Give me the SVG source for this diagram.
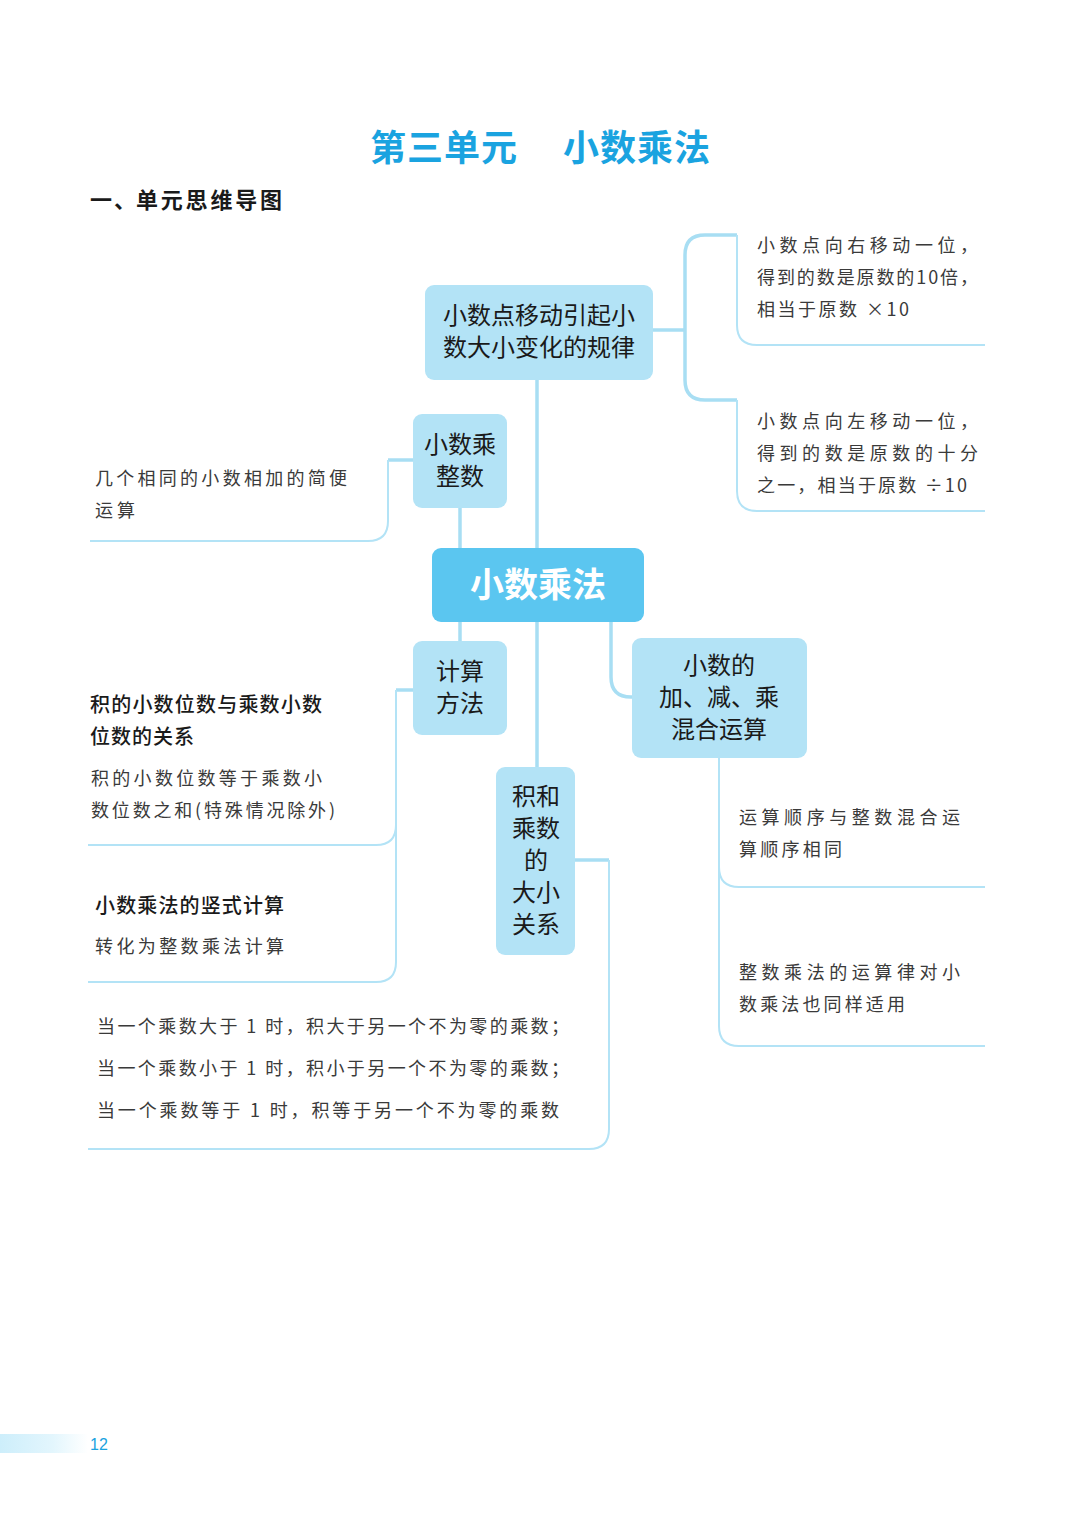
<svg xmlns="http://www.w3.org/2000/svg" width="1080" height="1515" viewBox="0 0 1080 1515">
<defs>
<linearGradient id="pg" x1="0" y1="0" x2="1" y2="0">
<stop offset="0" stop-color="#cdeefb"/>
<stop offset="0.6" stop-color="#e3f6fd"/>
<stop offset="1" stop-color="#ffffff"/>
</linearGradient>
<style>
.box{fill:#b3e3f6}
.center{fill:#5bc6f0}
.bt{font-family:"Noto Sans CJK SC","Noto Sans",sans-serif;font-size:24px;fill:#1a1a1a;text-anchor:middle}
.ct{font-family:"Noto Sans CJK SC","Noto Sans",sans-serif;font-size:34px;font-weight:bold;fill:#ffffff;text-anchor:middle}
.lf{font-family:"Noto Sans CJK SC","Noto Sans",sans-serif;font-size:18px;font-weight:normal;fill:#3a3a3a}
.lb{font-family:"Noto Sans CJK SC","Noto Sans",sans-serif;font-size:20px;font-weight:500;fill:#1a1a1a}
.con{fill:none;stroke:#a8def3;stroke-width:3.5}
.ul{fill:none;stroke:#b3e3f6;stroke-width:2}
</style>
</defs>
<rect width="1080" height="1515" fill="#ffffff"/>
<text x="540" y="161" text-anchor="middle" font-family="Noto Sans CJK SC, sans-serif" font-size="36" font-weight="bold" fill="#1aa3e0"><tspan x="370" text-anchor="start" textLength="147">第三单元</tspan><tspan x="563" text-anchor="start" textLength="147">小数乘法</tspan></text>
<text y="208" font-family="Noto Sans CJK SC, sans-serif" font-size="22" font-weight="bold" fill="#1a1a1a"><tspan x="90">一</tspan><tspan x="114">、</tspan><tspan x="136" textLength="146" lengthAdjust="spacing">单元思维导图</tspan></text>

<g id="connectors">
<path class="con" d="M537,380 V548 M537,622 V767 M460,508 V548 M460,622 V641"/>
<path class="con" d="M611,622 V677 Q611,697 631,697 H633"/>
<path class="con" d="M653,330 H685 M737,235 H705 Q685,235 685,255 V380 Q685,400 705,400 H737"/>
<path class="ul" d="M737,235 V325 Q737,345 757,345 H985 M737,400 V491 Q737,511 757,511 H985"/>
<path class="con" d="M413,460 H388"/>
<path class="ul" d="M388,460 V521 Q388,541 368,541 H90"/>
<path class="con" d="M413,690 H396"/>
<path class="ul" d="M396,690 V825 Q396,845 376,845 H88 M396,825 V962 Q396,982 376,982 H88"/>
<path class="con" d="M575,860 H609"/>
<path class="ul" d="M609,860 V1129 Q609,1149 589,1149 H88"/>
<path class="ul" d="M719,758 V867 Q719,887 739,887 H985 M719,867 V1026 Q719,1046 739,1046 H985"/>
</g>

<g id="node-top">
<rect class="box" x="425" y="285" width="228" height="95" rx="9"/>
<text class="bt" x="539" y="324">小数点移动引起小</text>
<text class="bt" x="539" y="356">数大小变化的规律</text>
</g>
<g id="node-int">
<rect class="box" x="413" y="414" width="94" height="94" rx="9"/>
<text class="bt" x="460" y="453">小数乘</text>
<text class="bt" x="460" y="485">整数</text>
</g>
<g id="node-center">
<rect class="center" x="432" y="548" width="212" height="74" rx="9"/>
<text class="ct" x="538" y="597">小数乘法</text>
</g>
<g id="node-calc">
<rect class="box" x="413" y="641" width="94" height="94" rx="9"/>
<text class="bt" x="460" y="680">计算</text>
<text class="bt" x="460" y="712">方法</text>
</g>
<g id="node-mix">
<rect class="box" x="632" y="638" width="175" height="120" rx="9"/>
<text class="bt" x="719" y="674">小数的</text>
<text class="bt" x="719" y="706">加、减、乘</text>
<text class="bt" x="719" y="738">混合运算</text>
</g>
<g id="node-size">
<rect class="box" x="496" y="767" width="79" height="188" rx="9"/>
<text class="bt" x="536" y="805">积和</text>
<text class="bt" x="536" y="837">乘数</text>
<text class="bt" x="536" y="869">的</text>
<text class="bt" x="536" y="901">大小</text>
<text class="bt" x="536" y="933">关系</text>
</g>

<g id="leaf-right1">
<text class="lf" x="757" y="252" textLength="221" lengthAdjust="spacing">小数点向右移动一位，</text>
<text class="lf" x="757" y="284" textLength="221" lengthAdjust="spacing">得到的数是原数的10倍，</text>
<text class="lf" x="757" y="316" textLength="152" lengthAdjust="spacing">相当于原数 ×10</text>
</g>
<g id="leaf-right2">
<text class="lf" x="757" y="428" textLength="221" lengthAdjust="spacing">小数点向左移动一位，</text>
<text class="lf" x="757" y="460" textLength="221" lengthAdjust="spacing">得到的数是原数的十分</text>
<text class="lf" x="757" y="492" textLength="210" lengthAdjust="spacing">之一，相当于原数 ÷10</text>
</g>
<g id="leaf-int">
<text class="lf" x="95" y="485" textLength="252" lengthAdjust="spacing">几个相同的小数相加的简便</text>
<text class="lf" x="95" y="517" textLength="40" lengthAdjust="spacing">运算</text>
</g>
<g id="leaf-digits">
<text class="lb" x="90" y="712" textLength="232" lengthAdjust="spacing">积的小数位数与乘数小数</text>
<text class="lb" x="90" y="744" textLength="104" lengthAdjust="spacing">位数的关系</text>
<text class="lf" x="91" y="785" textLength="231" lengthAdjust="spacing">积的小数位数等于乘数小</text>
<text class="lf" x="91" y="817" textLength="244" lengthAdjust="spacing">数位数之和(特殊情况除外)</text>
</g>
<g id="leaf-vertical">
<text class="lb" x="95" y="913" textLength="189" lengthAdjust="spacing">小数乘法的竖式计算</text>
<text class="lf" x="95" y="953" textLength="189" lengthAdjust="spacing">转化为整数乘法计算</text>
</g>
<g id="leaf-size">
<text class="lf" x="97" y="1033" textLength="472" lengthAdjust="spacing">当一个乘数大于 1 时，积大于另一个不为零的乘数；</text>
<text class="lf" x="97" y="1075" textLength="472" lengthAdjust="spacing">当一个乘数小于 1 时，积小于另一个不为零的乘数；</text>
<text class="lf" x="97" y="1117" textLength="462" lengthAdjust="spacing">当一个乘数等于 1 时，积等于另一个不为零的乘数</text>
</g>
<g id="leaf-mix1">
<text class="lf" x="739" y="824" textLength="221" lengthAdjust="spacing">运算顺序与整数混合运</text>
<text class="lf" x="739" y="856" textLength="103" lengthAdjust="spacing">算顺序相同</text>
</g>
<g id="leaf-mix2">
<text class="lf" x="739" y="979" textLength="221" lengthAdjust="spacing">整数乘法的运算律对小</text>
<text class="lf" x="739" y="1011" textLength="166" lengthAdjust="spacing">数乘法也同样适用</text>
</g>

<rect x="0" y="1434" width="88" height="19" fill="url(#pg)"/>
<text x="90" y="1450" font-family="Liberation Sans, sans-serif" font-size="16" fill="#1aa3e0">12</text>
</svg>
